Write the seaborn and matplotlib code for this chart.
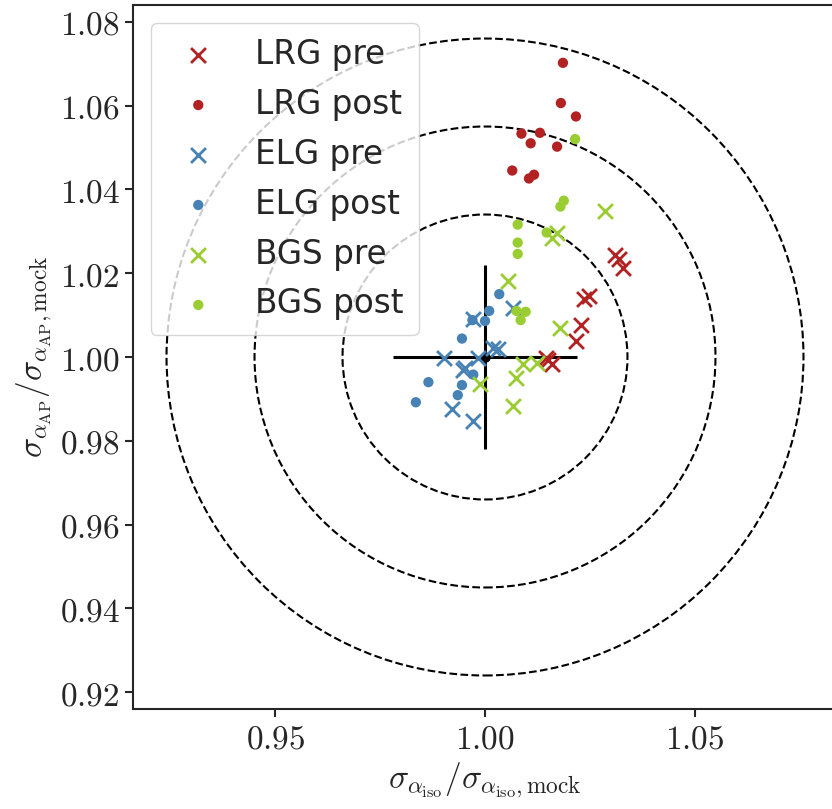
import numpy as np
import pandas as pd
import matplotlib
matplotlib.use("Agg")
import matplotlib.pyplot as plt
from matplotlib.patches import Circle
from matplotlib.ticker import FuncFormatter, FixedLocator
import seaborn as sns

# ---- data ----
lrg_pre_x = [1.0310, 1.0320, 1.0329, 1.0248, 1.0236, 1.0230, 1.0218, 1.0145, 1.0151, 1.0159]
lrg_pre_y = [1.0244, 1.0234, 1.0212, 1.0146, 1.0138, 1.0077, 1.0038, 0.9998, 0.9992, 0.9984]
lrg_post_x = [1.0186, 1.0181, 1.0217, 1.0087, 1.0131, 1.0109, 1.0172, 1.0065, 1.0105, 1.0117]
lrg_post_y = [1.0702, 1.0606, 1.0574, 1.0533, 1.0535, 1.0510, 1.0502, 1.0445, 1.0426, 1.0435]
elg_pre_x = [1.0067, 0.9972, 0.9901, 0.9984, 1.0020, 1.0032, 0.9952, 0.9947, 0.9922, 0.9971]
elg_pre_y = [1.0118, 1.0090, 0.9998, 0.9998, 1.0021, 1.0018, 0.9974, 0.9968, 0.9875, 0.9848]
elg_post_x = [1.0034, 1.0010, 1.0000, 0.9970, 0.9945, 0.9972, 0.9945, 0.9935, 0.9865, 0.9835]
elg_post_y = [1.0150, 1.0110, 1.0086, 1.0088, 1.0044, 0.9958, 0.9933, 0.9909, 0.9940, 0.9892]
bgs_pre_x = [1.0287, 1.0159, 1.0172, 1.0054, 1.0179, 1.0091, 1.0125, 1.0075, 0.9988, 1.0067]
bgs_pre_y = [1.0348, 1.0285, 1.0295, 1.0182, 1.0070, 0.9984, 0.9986, 0.9949, 0.9935, 0.9883]
bgs_post_x = [1.0215, 1.0188, 1.0180, 1.0078, 1.0078, 1.0078, 1.0147, 1.0075, 1.0097, 1.0085]
bgs_post_y = [1.0520, 1.0373, 1.0359, 1.0316, 1.0273, 1.0246, 1.0297, 1.0110, 1.0108, 1.0088]

labels = ["LRG pre", "LRG post", "ELG pre", "ELG post", "BGS pre", "BGS post"]
colors = {"LRG": "#b22222", "ELG": "#4682b4", "BGS": "#9acd32"}
circle_radii = [0.034, 0.055, 0.076]
ref_err = 0.022
x_ticks = [0.95, 1.00, 1.05]
y_ticks = [0.92, 0.94, 0.96, 0.98, 1.00, 1.02, 1.04, 1.06, 1.08]

series = [
    (lrg_pre_x, lrg_pre_y), (lrg_post_x, lrg_post_y),
    (elg_pre_x, elg_pre_y), (elg_post_x, elg_post_y),
    (bgs_pre_x, bgs_pre_y), (bgs_post_x, bgs_post_y),
]

sns.set_style("ticks")
plt.rcParams["mathtext.fontset"] = "cm"
plt.rcParams["font.family"] = ["DejaVu Sans"]

fig = plt.figure(figsize=(8.32, 8.09), dpi=100)
ax = fig.add_axes([133 / 832, 100 / 809, 704 / 832, 704 / 809])

for r in circle_radii:
    ax.add_patch(Circle((1.0, 1.0), r, fill=False, ls="--", lw=1.5, ec="black", zorder=1))

ax.errorbar([1.0], [1.0], xerr=ref_err, yerr=ref_err, fmt="o", color="black",
            ms=6.5, elinewidth=2.2, capsize=0, zorder=2)

for (xs, ys), lab in zip(series, labels):
    df = pd.DataFrame({"x": xs, "y": ys})
    c = colors[lab.split()[0]]
    if lab.endswith("pre"):
        sns.scatterplot(data=df, x="x", y="y", ax=ax, marker="x", s=115, color=c,
                        linewidth=2, label=lab, zorder=3)
    else:
        sns.scatterplot(data=df, x="x", y="y", ax=ax, marker="o", s=55, color=c,
                        edgecolor="none", label=lab, zorder=3)

ax.set_xlim(0.916, 1.084)
ax.set_ylim(0.916, 1.084)
ax.xaxis.set_major_locator(FixedLocator(x_ticks))
ax.yaxis.set_major_locator(FixedLocator(y_ticks))
ax.xaxis.set_major_formatter(FuncFormatter(lambda v, p: f"${v:.2f}$"))
ax.yaxis.set_major_formatter(FuncFormatter(lambda v, p: f"${v:.2f}$"))
ax.tick_params(labelsize=24, width=1.5, length=6)
for s in ax.spines.values():
    s.set_linewidth(1.5)

ax.set_xlabel(r"$\sigma_{\alpha_{\rm iso}}/\sigma_{\alpha_{\rm iso},{\rm mock}}$", fontsize=24)
ax.set_ylabel(r"$\sigma_{\alpha_{\rm AP}}/\sigma_{\alpha_{\rm AP},{\rm mock}}$", fontsize=24)

leg = ax.legend(loc="upper left", fontsize=23.5, framealpha=0.8, labelspacing=0.52,
                handletextpad=0.75, borderpad=0.45, borderaxespad=0.55)
leg.set_zorder(5)

fig.savefig("out.png", dpi=100)
